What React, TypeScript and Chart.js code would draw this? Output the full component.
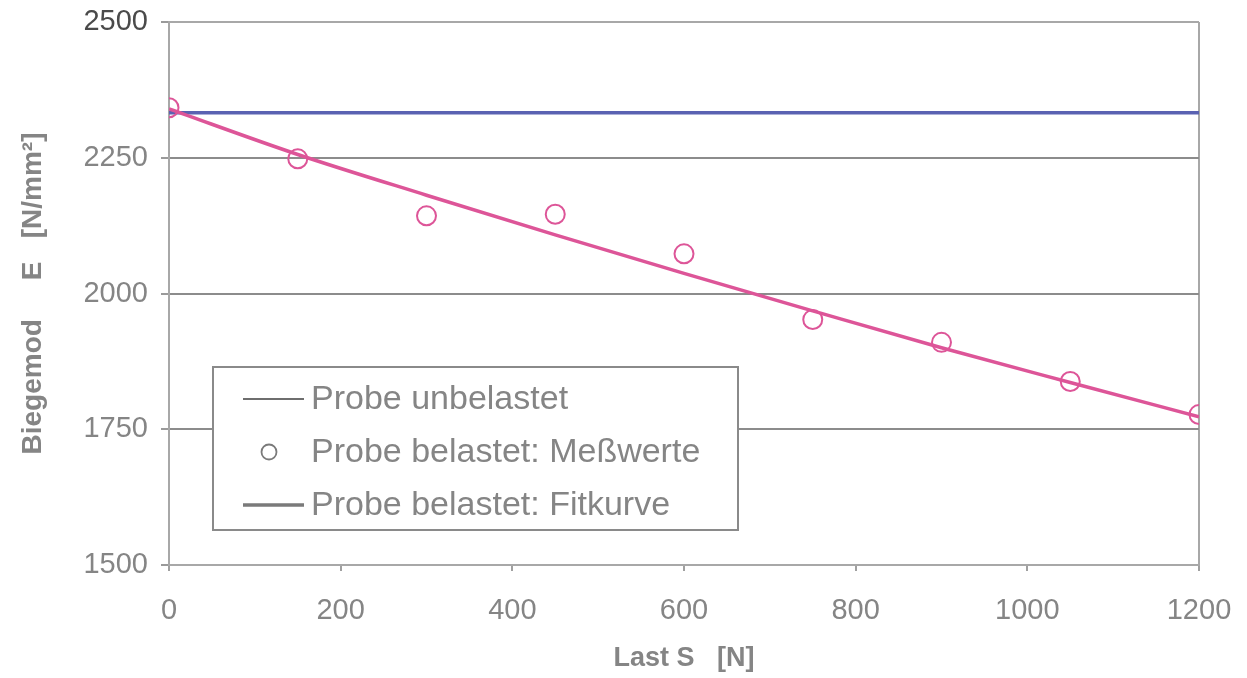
import React, { useEffect, useRef } from "react";
import { Chart, registerables } from "chart.js";

Chart.register(...registerables);

// ---- data ----
const measuredLoads = [0, 150, 300, 450, 600, 750, 900, 1050, 1200];
const measuredValues = [2342, 2248, 2143, 2146, 2073, 1952, 1910, 1838, 1777];
const fitLoads = [0, 150, 300, 450, 600, 750, 900, 1050, 1200];
const fitValues = [2340, 2256, 2181, 2108, 2037, 1968, 1900, 1836, 1773];
const unloadedLoads = [0, 1200];
const unloadedValues = [2333, 2333];
const xTickValues = [0, 200, 400, 600, 800, 1000, 1200];
const yTickValues = [1500, 1750, 2000, 2250, 2500];
const legendLabels = [
  "Probe unbelastet",
  "Probe belastet: Meßwerte",
  "Probe belastet: Fitkurve",
];
const xTitle = "Last S   [N]";
const yTitle = "Biegemod     E   [N/mm²]";

const FONT = '"Liberation Sans", Arial, Helvetica, sans-serif';
const PINK = "#dd5598";
const BLUE = "#5a62b2";
const GRID = "#8c8c8c";
const TEXT = "#858585";

const legendPlugin = {
  id: "boxLegend",
  afterDraw(chart: any) {
    const { ctx, chartArea } = chart;
    const left = chartArea.left + 44;
    const top = chartArea.top + 345;
    const w = 525;
    const h = 163;
    ctx.save();
    ctx.fillStyle = "#ffffff";
    ctx.fillRect(left, top, w, h);
    ctx.strokeStyle = "#8a8a8a";
    ctx.lineWidth = 2;
    ctx.strokeRect(left, top, w, h);
    const rows = [top + 32, top + 85, top + 138];
    ctx.font = `34px ${FONT}`;
    ctx.fillStyle = TEXT;
    ctx.textBaseline = "middle";
    ctx.textAlign = "left";
    ctx.strokeStyle = "#6e6e6e";
    ctx.lineWidth = 2;
    ctx.beginPath();
    ctx.moveTo(left + 30, rows[0]);
    ctx.lineTo(left + 91, rows[0]);
    ctx.stroke();
    ctx.strokeStyle = "#7a7a7a";
    ctx.lineWidth = 1.8;
    ctx.beginPath();
    ctx.arc(left + 56, rows[1], 7.5, 0, Math.PI * 2);
    ctx.stroke();
    ctx.strokeStyle = "#7a7a7a";
    ctx.lineWidth = 3.5;
    ctx.beginPath();
    ctx.moveTo(left + 30, rows[2]);
    ctx.lineTo(left + 91, rows[2]);
    ctx.stroke();
    legendLabels.forEach((t, i) => {
      ctx.fillText(t, left + 98, rows[i] + 1);
    });
    ctx.restore();
  },
};

export default function App() {
  const ref = useRef<HTMLCanvasElement | null>(null);

  useEffect(() => {
    if (!ref.current) return;
    const chart = new Chart(ref.current, {
      type: "scatter",
      data: {
        datasets: [
          {
            label: legendLabels[1],
            data: measuredLoads.map((x, i) => ({ x, y: measuredValues[i] })),
            showLine: false,
            pointStyle: "circle",
            pointRadius: 9.5,
            pointBorderWidth: 2,
            pointBorderColor: PINK,
            pointBackgroundColor: "rgba(0,0,0,0)",
            borderColor: PINK,
            order: 0,
          },
          {
            label: legendLabels[2],
            data: fitLoads.map((x, i) => ({ x, y: fitValues[i] })),
            showLine: true,
            borderColor: PINK,
            borderWidth: 3.5,
            pointRadius: 0,
            cubicInterpolationMode: "monotone",
            order: 1,
          },
          {
            label: legendLabels[0],
            data: unloadedLoads.map((x, i) => ({ x, y: unloadedValues[i] })),
            showLine: true,
            borderColor: BLUE,
            borderWidth: 3.5,
            pointRadius: 0,
            order: 2,
          },
        ],
      },
      plugins: [legendPlugin],
      options: {
        responsive: false,
        animation: false,
        layout: { padding: { top: 22, right: 48, left: 0, bottom: 0 } },
        plugins: {
          legend: { display: false },
          tooltip: { enabled: false },
        },
        scales: {
          x: {
            type: "linear",
            min: 0,
            max: 1200,
            afterFit: (s: any) => {
              s.height = 113;
              s.paddingLeft = 0;
              s.paddingRight = 0;
            },
            afterBuildTicks: (s: any) => {
              s.ticks = xTickValues.map((v) => ({ value: v }));
            },
            ticks: {
              color: TEXT,
              font: { family: FONT, size: 29 },
              padding: 23,
              maxRotation: 0,
              callback: (v: any) => String(v),
            },
            grid: {
              color: (c: any) =>
                c.tick && c.tick.value === 1200 ? "#a8a8a8" : "rgba(0,0,0,0)",
              lineWidth: 2,
              tickColor: "#a0a0a0",
              tickLength: 6,
              drawTicks: true,
            },
            border: { display: true, color: "#a8a8a8", width: 2 },
            title: {
              display: true,
              text: xTitle,
              color: TEXT,
              font: { family: FONT, size: 27, weight: "bold" },
              padding: { top: 0, bottom: 3 },
            },
          },
          y: {
            type: "linear",
            min: 1500,
            max: 2500,
            afterFit: (s: any) => {
              s.width = 169;
              s.paddingTop = 0;
              s.paddingBottom = 0;
            },
            afterBuildTicks: (s: any) => {
              s.ticks = yTickValues.map((v) => ({ value: v }));
            },
            ticks: {
              color: (c: any) => (c.tick && c.tick.value === 2500 ? "#4a4a4a" : TEXT),
              font: { family: FONT, size: 29 },
              padding: 13,
              callback: (v: any) => String(v),
            },
            grid: {
              color: (c: any) =>
                c.tick && c.tick.value === 2500 ? "#a8a8a8" : GRID,
              lineWidth: 2,
              tickColor: "#9a9a9a",
              tickLength: 8,
            },
            border: { display: true, color: "#a8a8a8", width: 2 },
            title: {
              display: true,
              text: yTitle,
              color: TEXT,
              font: { family: FONT, size: 28, weight: "bold" },
              padding: { top: 16, bottom: 0 },
            },
          },
        },
      },
    } as any);
    return () => chart.destroy();
  }, []);

  return (
    <div style={{ position: "absolute", left: 0, top: 0, width: 1247, height: 678, background: "#fff" }}>
      <canvas ref={ref} width={1247} height={678} style={{ display: "block" }} />
    </div>
  );
}
